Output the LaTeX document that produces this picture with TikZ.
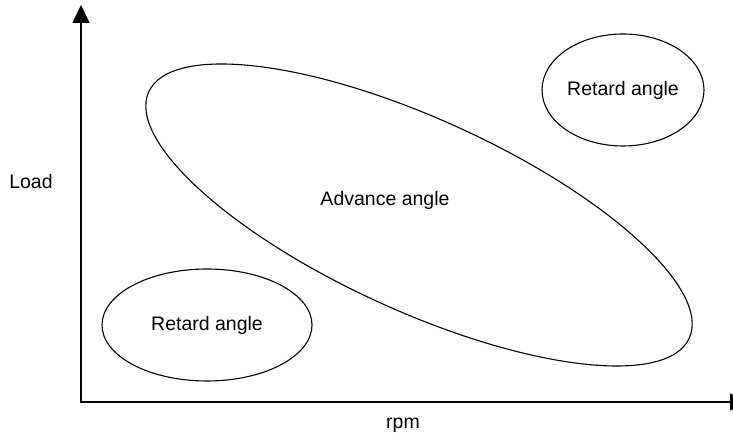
\documentclass[tikz,border=0pt]{standalone}
\usepackage{fontspec}
\setmainfont{Liberation Sans}
\usetikzlibrary{shapes.geometric,arrows.meta,positioning}

\begin{document}
\begin{tikzpicture}[
    x=1bp, y=1bp,
    every node/.style={font=\fontsize{19.5bp}{23bp}\selectfont},
    region/.style={draw, ellipse, line width=1.1bp, inner sep=0pt},
    axis/.style={line width=1.7bp, {Triangle[length=18bp,width=17bp]}-{Triangle[length=18bp,width=17bp]}}
]
\useasboundingbox (0,0) rectangle (733,442);

\coordinate (O) at (81,40);
\coordinate (ytip) at (81,437);
\coordinate (xtip) at (748,40);

\node[region, minimum width=594bp, minimum height=192bp, rotate=-24.5] (adv) at (419,227) {};
\node (advlabel) at (385,242) {Advance angle};
\node[region, minimum width=162bp, minimum height=112bp] (rethigh) at (623,352) {Retard angle};
\node[region, minimum width=210bp, minimum height=112bp] (retlow) at (207,117) {Retard angle};

\node (load) at (31,260) {Load};
\node (rpm) at (403,17) {rpm};

\draw[axis] (ytip) -- (O) -- (xtip);
\end{tikzpicture}
\end{document}
